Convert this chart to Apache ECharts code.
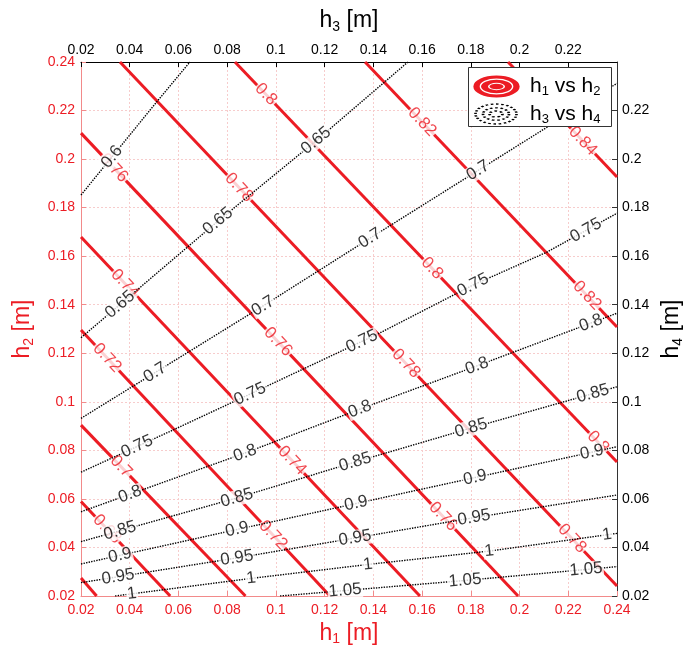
<!DOCTYPE html>
<html><head><meta charset="utf-8">
<script src="https://cdn.jsdelivr.net/npm/echarts@6/dist/echarts.min.js"></script>
<style>html,body{margin:0;padding:0;background:#fff}#c{width:693px;height:652px}</style>
</head><body><div id="c"></div>
<script>
const RED = '#ec1c24';
const FONT = '"Liberation Sans", Arial, Helvetica, sans-serif';

// h1 vs h2 contours (red)
const redLevels = ['0.66','0.68','0.7','0.72','0.74','0.76','0.78','0.8','0.82','0.84'];
const redLines = [
  [[0.02,0.0274],[0.0264,0.02]],
  [[0.02,0.0589],[0.0566,0.02]],
  [[0.02,0.0904],[0.0875,0.02]],
  [[0.02,0.1296],[0.1222,0.02]],
  [[0.02,0.1679],[0.1591,0.02]],
  [[0.02,0.2107],[0.1994,0.02]],
  [[0.036,0.24],[0.24,0.0241]],
  [[0.0832,0.24],[0.24,0.0752]],
  [[0.1366,0.24],[0.24,0.1308]],
  [[0.1953,0.24],[0.24,0.1926]]
];
const redLabelX = [[],[0.0307],[0.0364],[0.0307,0.0988],[0.0381,0.1066],[0.0335,0.1009,0.1686],
  [0.0849,0.1534,0.2215],[0.0959,0.1641,0.2322],[0.16,0.2277],[0.226]];

// h3 vs h4 contours (black dotted)
const blackLevels = ['0.6','0.65','0.7','0.75','0.8','0.85','0.9','0.95','1','1.05'];
const blackLines = [
  [[0.02,0.1852],[0.0511,0.2236],[0.0647,0.24]],
  [[0.02,0.1264],[0.0758,0.1741],[0.1169,0.2079],[0.1542,0.24]],
  [[0.02,0.0932],[0.0947,0.1395],[0.1386,0.1674],[0.24,0.2312]],
  [[0.02,0.0710],[0.0578,0.0884],[0.0894,0.1032],[0.1427,0.1284],[0.1809,0.1481],[0.2113,0.1617],[0.24,0.1777]],
  [[0.02,0.0547],[0.0873,0.0789],[0.1345,0.097],[0.1825,0.1148],[0.24,0.1365]],
  [[0.02,0.0424],[0.084,0.0604],[0.1325,0.0752],[0.1801,0.0892],[0.24,0.1062]],
  [[0.02,0.0332],[0.084,0.0474],[0.1329,0.0581],[0.1817,0.0688],[0.24,0.0815]],
  [[0.02,0.0255],[0.084,0.0357],[0.1325,0.0439],[0.1813,0.0523],[0.24,0.0616]],
  [[0.034,0.02],[0.0894,0.0272],[0.1378,0.033],[0.1875,0.0385],[0.24,0.0458]],
  [[0.1017,0.02],[0.1776,0.0264],[0.24,0.0321]]
];
const blackLabelX = [[0.0327],[0.036,0.0762,0.1165],[0.0504,0.0947,0.1386,0.183],
  [0.043,0.0894,0.1353,0.1809,0.2273],[0.0401,0.0873,0.1345,0.1825,0.2293],
  [0.036,0.084,0.1325,0.1801,0.2301],[0.036,0.084,0.1329,0.1817,0.2297],
  [0.0352,0.084,0.1325,0.1813],[0.0409,0.0898,0.1378,0.1875,0.2359],[0.1284,0.1776,0.2273]];

const AX_MIN = 0.02, AX_MAX = 0.24, AX_STEP = 0.02;
const fmt = v => String(Math.round(v * 100) / 100);

const chart = echarts.init(document.getElementById('c'), null, {renderer: 'canvas'});

function nameRich(color, sub, rest) {
  return {
    name: '{a|h}{s|' + sub + '}{a|' + rest + '}',
    nameTextStyle: {
      color: color, fontFamily: FONT,
      rich: {
        a: {fontSize: 23, color: color, fontFamily: FONT},
        s: {fontSize: 14, color: color, fontFamily: FONT, padding: [12, 0, 0, 0]}
      }
    }
  };
}

function axisCommon(color, lineColor, showMax, labelMargin) {
  return {
    type: 'value', min: AX_MIN, max: AX_MAX, interval: AX_STEP,
    axisLine: {show: true, onZero: false, lineStyle: {color: lineColor, width: 1}},
    axisTick: {show: true, inside: true, length: 5, lineStyle: {color: lineColor}},
    axisLabel: {color: color, fontSize: 14, fontFamily: FONT, margin: labelMargin, formatter: fmt, showMaxLabel: showMax, showMinLabel: true},
  };
}

const gridLine = {show: true, lineStyle: {color: '#f7cccc', width: 1, type: [2, 2]}};

const series = [];
redLines.forEach((ln, i) => series.push({
  type: 'line', xAxisIndex: 0, yAxisIndex: 0, data: ln, showSymbol: false, symbol: 'none',
  lineStyle: {color: RED, width: 3}, z: 2, silent: true, animation: false
}));
blackLines.forEach((ln, i) => series.push({
  type: 'line', xAxisIndex: 1, yAxisIndex: 1, data: ln, showSymbol: false, symbol: 'none',
  lineStyle: {color: '#000', width: 1.4, type: [1.4, 1.2]}, z: 4, silent: true, animation: false
}));
series.push({id: 'redLab', type: 'scatter', xAxisIndex: 0, yAxisIndex: 0, data: [], z: 3, silent: true, animation: false});
series.push({id: 'blackLab', type: 'scatter', xAxisIndex: 1, yAxisIndex: 1, data: [], z: 5, silent: true, animation: false});

function ellipse(cx, cy, rx, ry, style) {
  return {type: 'circle', x: cx, y: cy, scaleX: rx / ry, scaleY: 1, shape: {cx: 0, cy: 0, r: ry},
    style: Object.assign({strokeNoScale: true}, style), z: 101, silent: true};
}
const legRich = {
  a: {fontSize: 21, fontFamily: FONT, fill: '#000', color: '#000'},
  s: {fontSize: 13, fontFamily: FONT, fill: '#000', color: '#000', padding: [11, 0, 0, 0]}
};

chart.setOption({
  animation: false,
  backgroundColor: '#fff',
  grid: {left: 81, top: 62, width: 536, height: 534, containLabel: false},
  xAxis: [
    Object.assign(axisCommon(RED, '#f28a8a', true, 7), {position: 'bottom', splitLine: gridLine,
      nameLocation: 'middle', nameGap: 24}, nameRich(RED, '1', ' [m]')),
    Object.assign(axisCommon('#000', '#000', false, 5), {position: 'top', splitLine: {show: false},
      nameLocation: 'middle', nameGap: 28}, nameRich('#000', '3', ' [m]'))
  ],
  yAxis: [
    Object.assign(axisCommon(RED, '#f28a8a', true, 6), {position: 'left', splitLine: gridLine,
      nameLocation: 'middle', nameGap: 45}, nameRich(RED, '2', ' [m]')),
    Object.assign(axisCommon('#000', '#333', false, 5), {position: 'right', splitLine: {show: false},
      nameLocation: 'middle', nameGap: 38}, nameRich('#000', '4', ' [m]'))
  ],
  series: series,
  graphic: [
    {type: 'rect', shape: {x: 468.5, y: 67.5, width: 143, height: 59}, style: {fill: '#fff', stroke: '#333', lineWidth: 1}, z: 100, silent: true},
    ellipse(496.5, 86.5, 20, 9.5, {fill: 'none', stroke: RED, lineWidth: 3}),
    ellipse(496.5, 86.5, 12, 5.2, {fill: 'none', stroke: RED, lineWidth: 3}),
    ellipse(496.5, 86.5, 4.5, 1.8, {fill: RED, stroke: RED, lineWidth: 2}),
    ellipse(496, 114, 20.5, 10, {fill: 'none', stroke: '#000', lineWidth: 1.3, lineDash: [1.3, 1.3]}),
    ellipse(496, 114, 13, 6.2, {fill: 'none', stroke: '#000', lineWidth: 1.3, lineDash: [1.3, 1.3]}),
    ellipse(496, 114, 6.5, 3, {fill: 'none', stroke: '#000', lineWidth: 1.3, lineDash: [1.3, 1.3]}),
    {type: 'text', x: 530, y: 86, z: 101, silent: true,
      style: {text: '{a|h}{s|1}{a| vs h}{s|2}', rich: legRich, verticalAlign: 'middle', fill: '#000'}},
    {type: 'text', x: 530, y: 114, z: 101, silent: true,
      style: {text: '{a|h}{s|3}{a| vs h}{s|4}', rich: legRich, verticalAlign: 'middle', fill: '#000'}}
  ]
});

function pointOn(line, x) {
  for (let i = 0; i < line.length - 1; i++) {
    const a = line[i], b = line[i + 1];
    if (x >= Math.min(a[0], b[0]) && x <= Math.max(a[0], b[0])) {
      const t = (x - a[0]) / (b[0] - a[0]);
      return {seg: i, pt: [x, a[1] + t * (b[1] - a[1])]};
    }
  }
  return null;
}

function buildLabels(lines, labelX, levels) {
  const out = [];
  lines.forEach((ln, i) => {
    labelX[i].forEach(x => {
      const r = pointOn(ln, x);
      if (!r) return;
      const p1 = chart.convertToPixel({gridIndex: 0}, ln[r.seg]);
      const p2 = chart.convertToPixel({gridIndex: 0}, ln[r.seg + 1]);
      let ang = -Math.atan2(p2[1] - p1[1], p2[0] - p1[0]) * 180 / Math.PI;
      if (ang > 90) ang -= 180;
      if (ang < -90) ang += 180;
      out.push({value: r.pt, label: {rotate: ang, formatter: levels[i]}});
    });
  });
  return out;
}

const labStyle = color => ({
  show: true, position: 'inside', color: color, fontSize: 17, fontFamily: FONT,
  backgroundColor: '#fff', padding: [0, 1], lineHeight: 16, align: 'center', verticalAlign: 'middle'
});

chart.setOption({
  series: [
    {id: 'redLab', symbolSize: 1, itemStyle: {color: 'rgba(0,0,0,0)'}, label: labStyle(RED),
      data: buildLabels(redLines, redLabelX, redLevels)},
    {id: 'blackLab', symbolSize: 1, itemStyle: {color: 'rgba(0,0,0,0)'}, label: labStyle('#000'),
      data: buildLabels(blackLines, blackLabelX, blackLevels)}
  ]
});
</script>
</body></html>
